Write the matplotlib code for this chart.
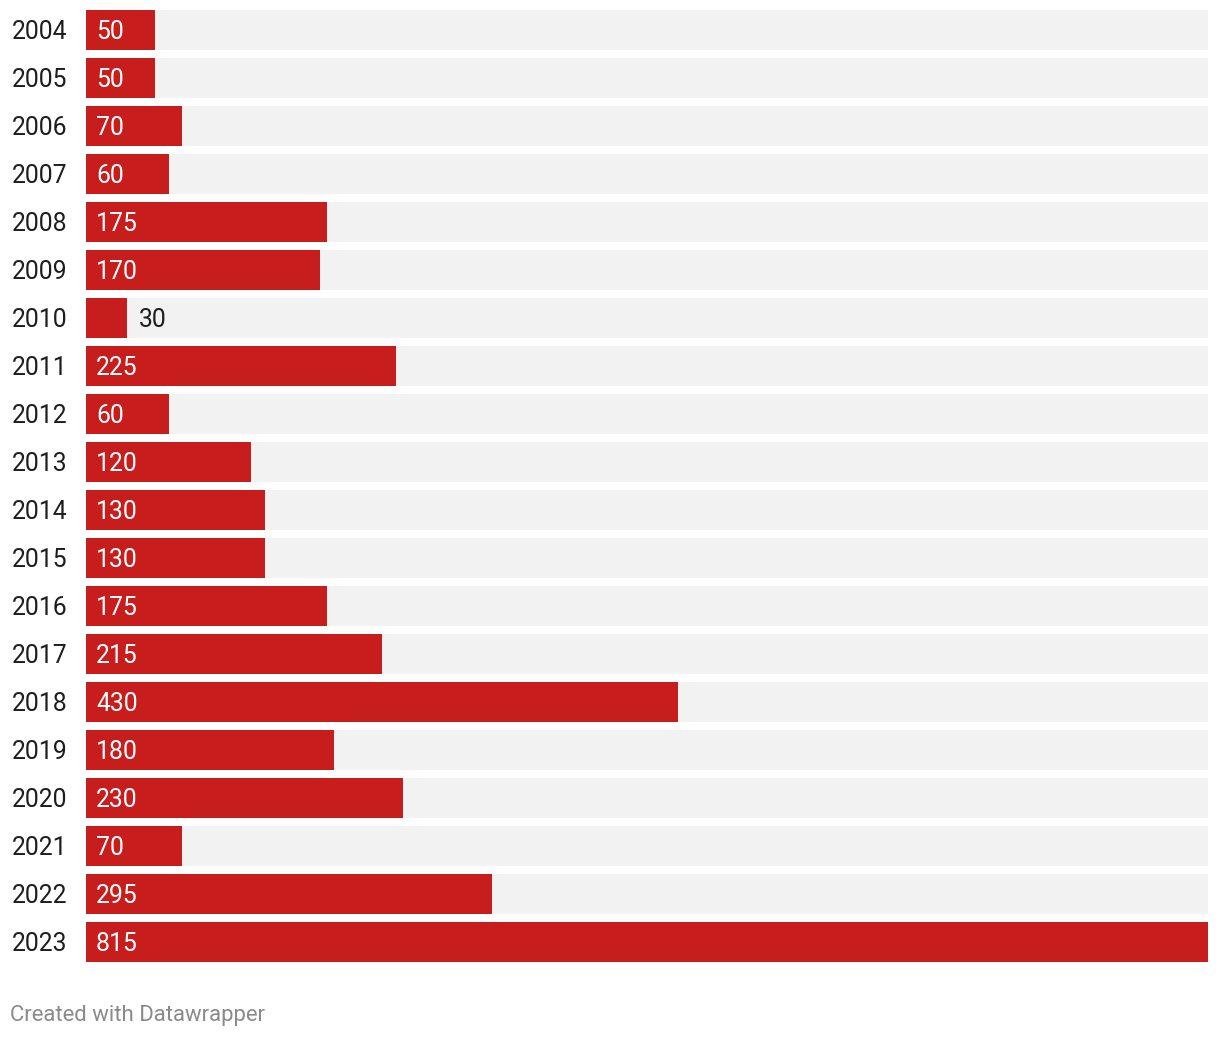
import matplotlib.pyplot as plt

plt.rcParams['font.family'] = ['Roboto', 'DejaVu Sans']

# data
years = ['2004', '2005', '2006', '2007', '2008', '2009', '2010', '2011', '2012', '2013',
         '2014', '2015', '2016', '2017', '2018', '2019', '2020', '2021', '2022', '2023']
values = [50, 50, 70, 60, 175, 170, 30, 225, 60, 120,
          130, 130, 175, 215, 430, 180, 230, 70, 295, 815]

W, H = 1220, 1038
fig = plt.figure(figsize=(W / 100, H / 100), dpi=100)

# axes placed in pixel coordinates: x 86..1208, y 10..962
ax = fig.add_axes([86 / W, 1 - 962 / H, (1208 - 86) / W, (962 - 10) / H])

bar_h = 40 / 48
xmax = 815
pos = list(range(len(years)))

ax.barh(pos, [xmax] * len(years), height=bar_h, color='#f2f2f2', linewidth=0)
ax.barh(pos, values, height=bar_h, color='#c71e1d', linewidth=0)

ax.set_xlim(0, xmax)
ax.set_ylim(len(years) - 1 + bar_h / 2, -bar_h / 2)
ax.axis('off')

fs = 17.8
px = xmax / (1208 - 86)  # data units per pixel
for i, (yr, v) in enumerate(zip(years, values)):
    fig.text(12 / W, 1 - (32 + 48 * i) / H, yr, ha='left', va='center',
             fontsize=fs, color='#1d1d1d')
    if v >= 45:
        ax.text(10 * px, i + 2 / 48, str(v), ha='left', va='center',
                fontsize=fs, color='white')
    else:
        ax.text(v + 12 * px, i + 2 / 48, str(v), ha='left', va='center',
                fontsize=fs, color='#1d1d1d')

fig.text(10 / W, 1 - 1016 / H, 'Created with Datawrapper', ha='left', va='center',
         fontsize=15.9, color='#8a8a8a')

fig.savefig('out.png', dpi=100, facecolor='white')
